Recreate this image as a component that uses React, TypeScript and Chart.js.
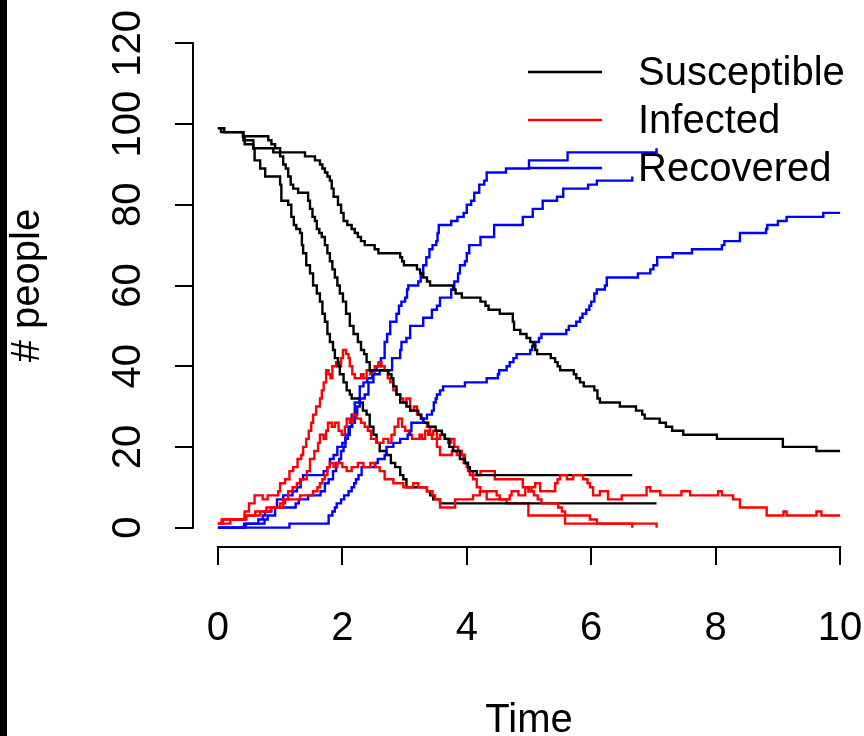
import React, { useEffect, useRef } from "react";
import { Chart, registerables } from "chart.js";

Chart.register(...registerables);

const xTicks = [0, 2, 4, 6, 8, 10];
const yTicks = [0, 20, 40, 60, 80, 100, 120];
const xTitle = "Time";
const yTitle = "# people";
const legendLabels = ["Susceptible", "Infected", "Recovered"];
const legendColors = ["#000000", "#ff0000", "#0000ff"];

// Run 1 (slow epidemic, observed until t = 10)
const s1Time = [0, 0.1, 0.4, 0.81, 0.86, 0.92, 1.0, 1.4, 1.56, 1.64, 1.68, 1.72, 1.76, 1.8, 1.83, 1.86, 1.93, 1.98, 2.02, 2.08, 2.15, 2.2, 2.25, 2.3, 2.36, 2.52, 2.58, 2.93, 2.96, 2.99, 3.2, 3.25, 3.3, 3.36, 3.41, 3.78, 3.82, 3.92, 4.22, 4.3, 4.35, 4.53, 4.74, 4.76, 4.86, 4.96, 5.02, 5.07, 5.1, 5.13, 5.35, 5.42, 5.46, 5.5, 5.72, 5.76, 5.82, 5.88, 6.05, 6.1, 6.14, 6.46, 6.72, 6.82, 6.86, 7.1, 7.2, 7.3, 7.48, 8.02, 9.08, 9.62, 10];
const s1Count = [99, 98, 97, 96, 95, 94, 93, 92, 91, 90, 89, 88, 87, 86, 84, 82, 80, 78, 76, 75, 74, 73, 72, 71, 70, 69, 68, 67, 66, 65, 64, 63, 62, 61, 60, 59, 58, 57, 56, 55, 54, 53, 51, 49, 48, 47, 46, 45, 44, 43, 42, 41, 40, 39, 38, 37, 36, 35, 34, 32, 31, 30, 29, 28, 27, 26, 25, 24, 23, 22, 20, 19, 19];
const i1Time = [0, 0.06, 0.46, 0.68, 0.85, 1.05, 1.32, 1.53, 1.6, 1.64, 1.68, 1.72, 1.76, 1.8, 1.86, 1.92, 2.0, 2.07, 2.15, 2.25, 2.34, 2.45, 2.52, 2.6, 2.68, 2.82, 2.98, 3.14, 3.22, 3.36, 3.45, 3.49, 3.57, 3.81, 4.1, 4.21, 4.48, 4.53, 4.69, 4.72, 4.83, 4.94, 4.99, 5.04, 5.1, 5.18, 5.42, 5.46, 5.5, 5.61, 5.71, 5.87, 5.94, 5.98, 6.03, 6.14, 6.27, 6.49, 6.89, 6.95, 7.11, 7.45, 7.59, 8.04, 8.1, 8.28, 8.39, 8.82, 9.09, 9.14, 9.62, 9.7, 10];
const i1Count = [1, 2, 3, 4, 5, 7, 8, 9, 10, 11, 12, 13, 15, 16, 15, 16, 15, 14, 15, 16, 15, 16, 15, 14, 12, 11, 10, 11, 10, 9, 8, 7, 5, 7, 8, 9, 8, 7, 8, 9, 8, 10, 9, 10, 11, 9, 11, 12, 13, 12, 13, 12, 11, 10, 8, 9, 7, 8, 10, 9, 8, 9, 8, 9, 8, 7, 5, 3, 4, 3, 4, 3, 3];
const r1Time = [0, 1.15, 1.78, 1.84, 1.88, 1.91, 1.98, 2.03, 2.1, 2.15, 2.19, 2.22, 2.26, 2.31, 2.53, 2.57, 2.68, 2.71, 2.82, 2.93, 3.05, 3.09, 3.11, 3.3, 3.36, 3.44, 3.47, 3.5, 3.52, 3.57, 3.62, 3.97, 4.32, 4.5, 4.52, 4.64, 4.69, 4.75, 4.8, 5.02, 5.05, 5.1, 5.16, 5.2, 5.6, 5.64, 5.76, 5.82, 5.86, 5.92, 5.97, 6.0, 6.05, 6.09, 6.22, 6.25, 6.75, 6.95, 7.0, 7.06, 7.31, 7.62, 8.1, 8.14, 8.39, 8.81, 8.83, 9.0, 9.14, 9.73, 10];
const r1Count = [0, 1, 3, 4, 5, 6, 7, 8, 9, 10, 11, 12, 13, 15, 16, 17, 18, 20, 21, 22, 23, 24, 26, 27, 28, 29, 31, 32, 33, 34, 35, 36, 37, 38, 39, 40, 41, 42, 43, 44, 45, 46, 47, 48, 49, 50, 51, 52, 53, 54, 55, 56, 58, 59, 60, 62, 63, 64, 65, 67, 68, 69, 70, 71, 73, 74, 75, 76, 77, 78, 78];

// Run 2 (dies out at t = 6.66)
const s2Time = [0, 0.1, 0.41, 0.57, 0.89, 1.0, 1.05, 1.09, 1.13, 1.17, 1.21, 1.29, 1.45, 1.48, 1.52, 1.56, 1.59, 1.63, 1.67, 1.72, 1.76, 1.8, 1.84, 1.88, 1.92, 1.96, 2.01, 2.06, 2.12, 2.18, 2.25, 2.3, 2.35, 2.39, 2.44, 2.74, 2.79, 2.82, 2.87, 2.93, 3.03, 3.09, 3.22, 3.27, 3.3, 3.38, 3.5, 3.6, 3.65, 3.72, 3.78, 3.89, 3.97, 4.02, 4.05, 4.16, 6.66];
const s2Count = [99, 98, 96, 94, 93, 92, 90, 89, 87, 85, 84, 83, 81, 79, 77, 76, 74, 73, 72, 70, 68, 66, 64, 62, 60, 58, 56, 53, 50, 48, 46, 44, 43, 41, 39, 38, 37, 35, 33, 31, 30, 29, 28, 27, 26, 25, 24, 23, 22, 20, 19, 17, 16, 15, 14, 13, 13];
const i2Time = [0, 0.08, 0.43, 0.6, 0.78, 1.0, 1.08, 1.13, 1.2, 1.27, 1.32, 1.43, 1.48, 1.55, 1.61, 1.64, 1.7, 1.74, 1.77, 1.83, 1.88, 1.94, 1.99, 2.04, 2.07, 2.12, 2.17, 2.23, 2.3, 2.36, 2.41, 2.46, 2.55, 2.66, 2.74, 2.79, 2.84, 2.9, 2.96, 3.01, 3.07, 3.12, 3.24, 3.28, 3.33, 3.38, 3.44, 3.52, 3.57, 3.76, 3.84, 3.95, 4.0, 4.05, 4.22, 4.45, 4.9, 5.0, 5.08, 5.14, 5.2, 5.47, 5.53, 5.58, 5.98, 6.09, 6.66];
const i2Count = [1, 2, 3, 4, 5, 6, 7, 9, 10, 11, 12, 14, 17, 19, 21, 23, 22, 24, 26, 25, 26, 24, 23, 25, 27, 26, 28, 27, 26, 25, 24, 22, 21, 22, 21, 23, 25, 27, 25, 24, 23, 22, 23, 22, 24, 23, 22, 20, 18, 19, 18, 16, 15, 13, 14, 12, 10, 9, 8, 7, 6, 5, 4, 3, 2, 1, 0];
const r2Time = [0, 0.42, 0.75, 0.8, 0.92, 1.25, 1.3, 1.45, 1.65, 1.72, 1.78, 1.85, 1.9, 1.95, 1.98, 2.02, 2.05, 2.09, 2.12, 2.16, 2.2, 2.24, 2.28, 2.36, 2.42, 2.5, 2.6, 2.8, 2.93, 2.95, 3.03, 3.09, 3.3, 3.44, 3.52, 3.57, 3.75, 3.8, 3.86, 3.89, 3.97, 4.0, 4.04, 4.22, 4.44, 4.9, 5.06, 5.22, 5.45, 5.55, 5.95, 6.09, 6.66];
const r2Count = [0, 1, 2, 3, 5, 6, 7, 8, 9, 11, 12, 14, 16, 17, 19, 20, 22, 23, 25, 26, 28, 30, 32, 33, 36, 38, 39, 42, 44, 46, 47, 50, 52, 54, 55, 57, 59, 61, 63, 65, 66, 68, 70, 72, 75, 77, 79, 81, 82, 84, 85, 86, 87];

// Run 3 (fast epidemic, dies out at t = 7.05)
const s3Time = [0, 0.05, 0.41, 0.43, 0.57, 0.59, 0.68, 0.76, 1.0, 1.02, 1.13, 1.18, 1.22, 1.26, 1.32, 1.35, 1.37, 1.42, 1.48, 1.53, 1.59, 1.64, 1.68, 1.72, 1.76, 1.8, 1.85, 1.88, 1.93, 1.96, 2.02, 2.07, 2.12, 2.15, 2.28, 2.33, 2.39, 2.44, 2.5, 2.55, 2.6, 2.71, 2.78, 2.85, 2.93, 2.98, 3.03, 3.36, 3.41, 3.46, 3.57, 7.05];
const s3Count = [99, 98, 97, 95, 94, 91, 89, 87, 85, 81, 80, 77, 75, 74, 73, 70, 68, 65, 63, 60, 58, 56, 53, 51, 48, 46, 44, 42, 40, 38, 36, 34, 33, 32, 31, 29, 28, 25, 23, 21, 19, 18, 16, 15, 13, 12, 10, 9, 8, 7, 6, 6];
const i3Time = [0, 0.2, 0.43, 0.5, 0.59, 0.72, 0.8, 0.97, 1.0, 1.08, 1.15, 1.21, 1.28, 1.34, 1.37, 1.42, 1.46, 1.5, 1.53, 1.58, 1.64, 1.67, 1.7, 1.74, 1.78, 1.81, 1.84, 1.9, 1.95, 1.98, 2.01, 2.06, 2.1, 2.12, 2.16, 2.2, 2.3, 2.34, 2.39, 2.45, 2.52, 2.58, 2.63, 2.68, 2.73, 2.77, 2.82, 2.87, 2.93, 2.98, 3.03, 3.09, 3.15, 3.2, 3.26, 3.3, 3.36, 3.41, 3.46, 3.52, 3.57, 3.64, 3.7, 3.75, 3.8, 3.86, 3.92, 3.97, 4.02, 4.1, 4.16, 4.22, 4.32, 4.64, 4.99, 5.58, 7.05];
const i3Count = [1, 2, 4, 6, 8, 7, 8, 9, 11, 12, 14, 15, 17, 18, 20, 22, 24, 26, 28, 30, 32, 34, 36, 39, 38, 37, 40, 41, 40, 42, 44, 43, 42, 40, 38, 37, 38, 37, 39, 38, 40, 41, 40, 39, 37, 36, 34, 33, 32, 31, 32, 29, 30, 28, 27, 26, 25, 23, 24, 22, 23, 22, 21, 22, 20, 19, 18, 16, 14, 12, 10, 9, 7, 6, 3, 1, 0];
const r3Time = [0, 0.45, 0.65, 0.72, 0.76, 0.86, 0.95, 1.05, 1.2, 1.27, 1.33, 1.37, 1.7, 1.76, 1.8, 1.86, 1.92, 2.0, 2.05, 2.1, 2.15, 2.2, 2.28, 2.34, 2.4, 2.48, 2.55, 2.62, 2.68, 2.72, 2.77, 2.87, 2.91, 2.95, 3.01, 3.04, 3.06, 3.22, 3.26, 3.3, 3.35, 3.4, 3.45, 3.51, 3.53, 3.55, 3.75, 3.85, 3.95, 4.0, 4.07, 4.12, 4.2, 4.28, 4.32, 4.63, 5.0, 5.62, 7.05];
const r3Count = [0, 1, 2, 3, 4, 5, 7, 8, 9, 10, 12, 13, 14, 15, 17, 18, 20, 21, 23, 25, 28, 31, 35, 36, 37, 39, 40, 42, 46, 48, 51, 53, 55, 56, 57, 59, 60, 61, 63, 65, 67, 69, 70, 71, 73, 75, 76, 77, 78, 80, 81, 83, 85, 86, 88, 89, 91, 93, 94];

const FONT = '40px "Liberation Sans", Arial, Helvetica, sans-serif';

function toPoints(t: number[], v: number[]) {
  return t.map((x, i) => ({ x, y: v[i] }));
}

const rStylePlugin = {
  id: "rStyle",
  afterDraw(chart: any) {
    const ctx = chart.ctx as CanvasRenderingContext2D;
    const ca = chart.chartArea;
    const xs = chart.scales.x;
    const ys = chart.scales.y;
    ctx.save();
    // dark strip at the very left edge
    ctx.fillStyle = "#000";
    ctx.fillRect(0, 0, 7, chart.height);

    // axis lines (from first to last tick, R style)
    ctx.strokeStyle = "#000";
    ctx.lineWidth = 2;
    ctx.beginPath();
    ctx.moveTo(xs.getPixelForValue(xTicks[0]) - 1, ca.bottom);
    ctx.lineTo(xs.getPixelForValue(xTicks[xTicks.length - 1]) + 1, ca.bottom);
    ctx.stroke();
    ctx.beginPath();
    ctx.moveTo(ca.left, ys.getPixelForValue(yTicks[0]) + 1);
    ctx.lineTo(ca.left, ys.getPixelForValue(yTicks[yTicks.length - 1]) - 1);
    ctx.stroke();

    ctx.fillStyle = "#000";
    ctx.font = FONT;
    ctx.textBaseline = "alphabetic";
    ctx.textAlign = "center";
    // x tick labels
    for (const v of xTicks) {
      ctx.fillText(String(v), xs.getPixelForValue(v), 640);
    }
    // y tick labels (rotated)
    for (const v of yTicks) {
      ctx.save();
      ctx.translate(140, ys.getPixelForValue(v));
      ctx.rotate(-Math.PI / 2);
      ctx.fillText(String(v), 0, 0);
      ctx.restore();
    }
    // axis titles
    ctx.fillText(xTitle, (ca.left + ca.right) / 2, 732);
    ctx.save();
    ctx.translate(39, (ca.top + ca.bottom) / 2);
    ctx.rotate(-Math.PI / 2);
    ctx.fillText(yTitle, 0, 0);
    ctx.restore();

    // legend
    ctx.textAlign = "left";
    legendLabels.forEach((label, i) => {
      const y = 72 + 48 * i;
      ctx.strokeStyle = legendColors[i];
      ctx.lineWidth = 2.4;
      ctx.beginPath();
      ctx.moveTo(528, y);
      ctx.lineTo(602, y);
      ctx.stroke();
      ctx.fillStyle = "#000";
      ctx.fillText(label, 638, y + 13);
    });
    ctx.restore();
  },
};

export default function App() {
  const ref = useRef<HTMLCanvasElement>(null);

  useEffect(() => {
    const series = [
      { t: s1Time, v: s1Count, c: 0 },
      { t: i1Time, v: i1Count, c: 1 },
      { t: r1Time, v: r1Count, c: 2 },
      { t: s2Time, v: s2Count, c: 0 },
      { t: i2Time, v: i2Count, c: 1 },
      { t: r2Time, v: r2Count, c: 2 },
      { t: s3Time, v: s3Count, c: 0 },
      { t: i3Time, v: i3Count, c: 1 },
      { t: r3Time, v: r3Count, c: 2 },
    ];
    const tickGrid = {
      display: true,
      drawOnChartArea: false,
      drawTicks: true,
      tickLength: 18,
      color: "#000",
      lineWidth: 2,
    };
    const chart = new Chart(ref.current as HTMLCanvasElement, {
      type: "line",
      data: {
        datasets: series.map((s, k) => ({
          label: legendLabels[s.c] + " " + (Math.floor(k / 3) + 1),
          data: toPoints(s.t, s.v),
          borderColor: legendColors[s.c],
          backgroundColor: legendColors[s.c],
          borderWidth: 2.4,
          pointRadius: 0,
          stepped: true,
          fill: false,
        })),
      },
      options: {
        responsive: false,
        animation: false,
        events: [],
        layout: { padding: { left: 0, right: 15, top: 24, bottom: 0 } },
        plugins: { legend: { display: false }, tooltip: { enabled: false } },
        scales: {
          x: {
            type: "linear",
            position: "bottom",
            min: -0.4,
            max: 10.4,
            afterBuildTicks: (scale: any) => {
              scale.ticks = xTicks.map((v) => ({ value: v }));
            },
            afterFit: (scale: any) => {
              scale.height = 189;
            },
            grid: tickGrid,
            border: { display: false },
            ticks: { display: false },
          },
          y: {
            type: "linear",
            position: "left",
            min: -4.8,
            max: 124.8,
            afterBuildTicks: (scale: any) => {
              scale.ticks = yTicks.map((v) => ({ value: v }));
            },
            afterFit: (scale: any) => {
              scale.width = 193;
            },
            grid: tickGrid,
            border: { display: false },
            ticks: { display: false },
          },
        },
      } as any,
      plugins: [rStylePlugin],
    });
    return () => chart.destroy();
  }, []);

  return (
    <div
      style={{
        position: "fixed",
        left: 0,
        top: 0,
        width: 864,
        height: 736,
        overflow: "hidden",
        background: "#fff",
      }}
    >
      <canvas ref={ref} width={880} height={736} style={{ display: "block" }} />
    </div>
  );
}
